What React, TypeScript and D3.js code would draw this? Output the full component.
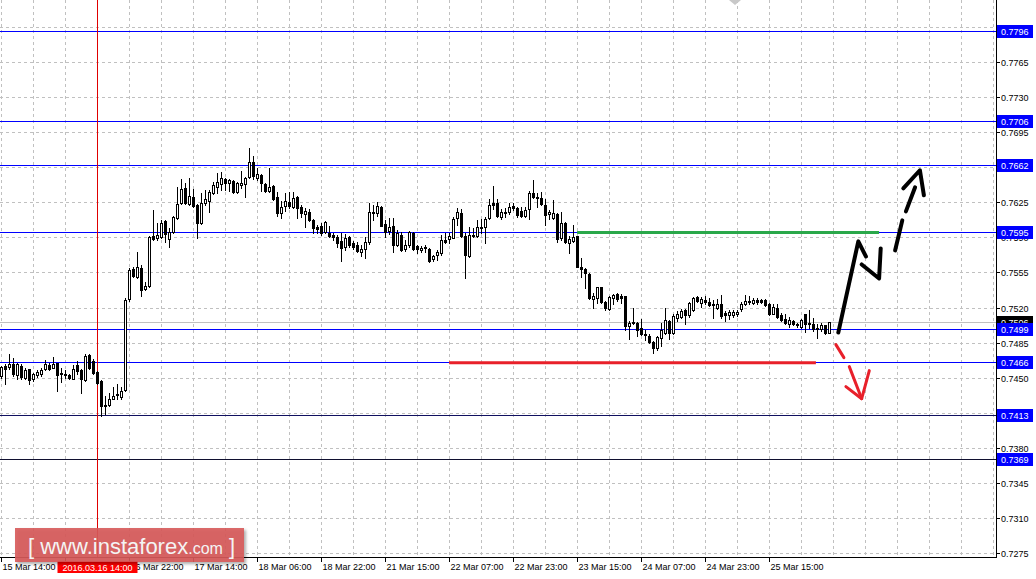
import React from 'react';
import * as d3 from 'd3';

// ---- data ----
const timeLabels = ['15 Mar 14:00', '16 Mar 06:00', '16 Mar 22:00', '17 Mar 14:00', '18 Mar 06:00', '18 Mar 22:00', '21 Mar 15:00', '22 Mar 07:00', '22 Mar 23:00', '23 Mar 15:00', '24 Mar 07:00', '24 Mar 23:00', '25 Mar 15:00'];
const barsPerLabel = 16;
const crosshairBar = 24;
const crosshairLabel = '2016.03.16 14:00';

const priceTicks = [0.7275, 0.7310, 0.7345, 0.7380, 0.7415, 0.7450, 0.7485, 0.7520, 0.7555, 0.7590, 0.7625, 0.7660, 0.7695, 0.7730, 0.7765, 0.7800];
const levels = [0.7796, 0.7706, 0.7662, 0.7595, 0.7499, 0.7466, 0.7413, 0.7369];
const levelColors = ['#0000ff', '#0000ff', '#0000ff', '#0000ff', '#0000ff', '#0000ff', '#101060', '#101030'];
const currentPrice = 0.7506;

// [open, high, low, close]
const ohlc: [number, number, number, number][] = [
  [0.7452, 0.7462, 0.7450, 0.7461], [0.7462, 0.7464, 0.7444, 0.7459], [0.7461, 0.7474, 0.7459, 0.7464], [0.7464, 0.7470, 0.7452, 0.7454],
  [0.7453, 0.7465, 0.7449, 0.7464], [0.7462, 0.7464, 0.7449, 0.7451], [0.7450, 0.7460, 0.7449, 0.7458], [0.7459, 0.7459, 0.7444, 0.7448],
  [0.7449, 0.7455, 0.7447, 0.7454], [0.7453, 0.7458, 0.7451, 0.7456], [0.7454, 0.7460, 0.7452, 0.7458], [0.7459, 0.7468, 0.7458, 0.7464],
  [0.7463, 0.7465, 0.7458, 0.7459], [0.7460, 0.7471, 0.7460, 0.7464], [0.7465, 0.7465, 0.7437, 0.7453], [0.7455, 0.7460, 0.7446, 0.7454],
  [0.7454, 0.7458, 0.7450, 0.7453], [0.7453, 0.7454, 0.7449, 0.7450], [0.7449, 0.7463, 0.7449, 0.7459], [0.7463, 0.7467, 0.7454, 0.7457],
  [0.7458, 0.7459, 0.7435, 0.7449], [0.7448, 0.7474, 0.7447, 0.7472], [0.7473, 0.7474, 0.7459, 0.7460], [0.7467, 0.7469, 0.7454, 0.7455],
  [0.7456, 0.7457, 0.7444, 0.7445], [0.7447, 0.7448, 0.7412, 0.7422], [0.7423, 0.7432, 0.7414, 0.7422], [0.7423, 0.7435, 0.7422, 0.7429],
  [0.7429, 0.7441, 0.7429, 0.7432], [0.7434, 0.7444, 0.7429, 0.7433], [0.7431, 0.7441, 0.7429, 0.7437], [0.7438, 0.7530, 0.7437, 0.7528],
  [0.7529, 0.7559, 0.7527, 0.7557], [0.7558, 0.7560, 0.7550, 0.7551], [0.7550, 0.7575, 0.7549, 0.7560], [0.7559, 0.7562, 0.7532, 0.7537],
  [0.7538, 0.7545, 0.7537, 0.7541], [0.7541, 0.7591, 0.7540, 0.7590], [0.7591, 0.7617, 0.7587, 0.7588], [0.7589, 0.7604, 0.7587, 0.7592],
  [0.7590, 0.7607, 0.7589, 0.7604], [0.7606, 0.7607, 0.7585, 0.7593], [0.7588, 0.7599, 0.7580, 0.7595], [0.7595, 0.7611, 0.7594, 0.7610],
  [0.7609, 0.7640, 0.7608, 0.7623], [0.7624, 0.7648, 0.7623, 0.7638], [0.7639, 0.7644, 0.7623, 0.7624], [0.7623, 0.7649, 0.7622, 0.7631],
  [0.7630, 0.7638, 0.7620, 0.7621], [0.7622, 0.7623, 0.7589, 0.7604], [0.7604, 0.7634, 0.7603, 0.7624], [0.7624, 0.7637, 0.7622, 0.7628],
  [0.7626, 0.7637, 0.7615, 0.7635], [0.7634, 0.7645, 0.7633, 0.7642], [0.7640, 0.7654, 0.7634, 0.7645], [0.7643, 0.7655, 0.7637, 0.7649],
  [0.7648, 0.7649, 0.7637, 0.7644], [0.7644, 0.7648, 0.7636, 0.7647], [0.7646, 0.7647, 0.7634, 0.7635], [0.7635, 0.7645, 0.7634, 0.7644],
  [0.7642, 0.7656, 0.7639, 0.7644], [0.7643, 0.7650, 0.7630, 0.7649], [0.7650, 0.7679, 0.7649, 0.7665], [0.7665, 0.7671, 0.7648, 0.7651],
  [0.7649, 0.7659, 0.7647, 0.7653], [0.7652, 0.7653, 0.7636, 0.7644], [0.7643, 0.7644, 0.7635, 0.7636], [0.7636, 0.7659, 0.7635, 0.7640],
  [0.7641, 0.7642, 0.7627, 0.7628], [0.7630, 0.7635, 0.7611, 0.7614], [0.7614, 0.7626, 0.7609, 0.7620], [0.7621, 0.7634, 0.7616, 0.7626],
  [0.7625, 0.7635, 0.7619, 0.7621], [0.7620, 0.7635, 0.7619, 0.7629], [0.7630, 0.7631, 0.7609, 0.7619], [0.7620, 0.7622, 0.7610, 0.7614],
  [0.7613, 0.7619, 0.7600, 0.7616], [0.7615, 0.7618, 0.7606, 0.7607], [0.7607, 0.7608, 0.7594, 0.7599], [0.7600, 0.7602, 0.7594, 0.7598],
  [0.7601, 0.7604, 0.7592, 0.7594], [0.7595, 0.7606, 0.7594, 0.7605], [0.7594, 0.7601, 0.7590, 0.7591], [0.7592, 0.7594, 0.7587, 0.7590],
  [0.7590, 0.7592, 0.7580, 0.7584], [0.7586, 0.7594, 0.7566, 0.7579], [0.7580, 0.7593, 0.7577, 0.7589], [0.7590, 0.7591, 0.7580, 0.7582],
  [0.7584, 0.7586, 0.7578, 0.7580], [0.7582, 0.7585, 0.7575, 0.7576], [0.7575, 0.7582, 0.7571, 0.7578], [0.7578, 0.7590, 0.7569, 0.7585],
  [0.7585, 0.7624, 0.7583, 0.7615], [0.7614, 0.7622, 0.7607, 0.7615], [0.7614, 0.7625, 0.7611, 0.7621], [0.7620, 0.7621, 0.7601, 0.7601],
  [0.7603, 0.7607, 0.7590, 0.7595], [0.7596, 0.7609, 0.7593, 0.7600], [0.7601, 0.7609, 0.7575, 0.7582], [0.7582, 0.7597, 0.7581, 0.7594],
  [0.7592, 0.7595, 0.7576, 0.7577], [0.7578, 0.7587, 0.7576, 0.7582], [0.7582, 0.7596, 0.7580, 0.7595], [0.7594, 0.7595, 0.7577, 0.7578],
  [0.7581, 0.7582, 0.7574, 0.7578], [0.7577, 0.7581, 0.7575, 0.7579], [0.7580, 0.7582, 0.7575, 0.7579], [0.7578, 0.7579, 0.7565, 0.7566],
  [0.7568, 0.7572, 0.7566, 0.7571], [0.7572, 0.7577, 0.7567, 0.7575], [0.7574, 0.7592, 0.7572, 0.7587], [0.7587, 0.7594, 0.7584, 0.7585],
  [0.7588, 0.7594, 0.7584, 0.7591], [0.7589, 0.7610, 0.7589, 0.7608], [0.7609, 0.7619, 0.7602, 0.7615], [0.7614, 0.7618, 0.7590, 0.7591],
  [0.7591, 0.7594, 0.7549, 0.7572], [0.7571, 0.7600, 0.7570, 0.7592], [0.7592, 0.7599, 0.7590, 0.7591], [0.7591, 0.7607, 0.7590, 0.7600],
  [0.7600, 0.7608, 0.7594, 0.7599], [0.7600, 0.7610, 0.7584, 0.7608], [0.7609, 0.7628, 0.7608, 0.7622], [0.7624, 0.7641, 0.7618, 0.7622],
  [0.7624, 0.7628, 0.7610, 0.7611], [0.7610, 0.7618, 0.7608, 0.7615], [0.7615, 0.7619, 0.7610, 0.7614], [0.7615, 0.7624, 0.7613, 0.7620],
  [0.7621, 0.7624, 0.7617, 0.7619], [0.7619, 0.7620, 0.7610, 0.7612], [0.7616, 0.7620, 0.7610, 0.7611], [0.7611, 0.7620, 0.7610, 0.7617],
  [0.7618, 0.7636, 0.7608, 0.7634], [0.7634, 0.7647, 0.7629, 0.7630], [0.7630, 0.7634, 0.7620, 0.7629], [0.7629, 0.7635, 0.7622, 0.7623],
  [0.7622, 0.7628, 0.7602, 0.7612], [0.7613, 0.7617, 0.7608, 0.7615], [0.7609, 0.7627, 0.7608, 0.7614], [0.7613, 0.7614, 0.7585, 0.7588],
  [0.7589, 0.7615, 0.7587, 0.7604], [0.7604, 0.7605, 0.7584, 0.7585], [0.7584, 0.7591, 0.7574, 0.7588], [0.7586, 0.7602, 0.7585, 0.7590],
  [0.7591, 0.7591, 0.7560, 0.7560], [0.7560, 0.7569, 0.7550, 0.7558], [0.7558, 0.7559, 0.7539, 0.7554], [0.7553, 0.7554, 0.7529, 0.7530],
  [0.7529, 0.7535, 0.7520, 0.7532], [0.7530, 0.7540, 0.7525, 0.7540], [0.7540, 0.7540, 0.7525, 0.7526], [0.7526, 0.7527, 0.7518, 0.7520],
  [0.7519, 0.7532, 0.7518, 0.7531], [0.7530, 0.7534, 0.7524, 0.7533], [0.7534, 0.7535, 0.7527, 0.7529], [0.7532, 0.7534, 0.7525, 0.7530],
  [0.7532, 0.7532, 0.7498, 0.7502], [0.7502, 0.7507, 0.7489, 0.7505], [0.7506, 0.7520, 0.7504, 0.7505], [0.7505, 0.7506, 0.7492, 0.7498],
  [0.7500, 0.7509, 0.7493, 0.7494], [0.7494, 0.7498, 0.7488, 0.7493], [0.7492, 0.7494, 0.7485, 0.7486], [0.7486, 0.7487, 0.7475, 0.7480],
  [0.7480, 0.7492, 0.7478, 0.7491], [0.7490, 0.7505, 0.7482, 0.7498], [0.7495, 0.7520, 0.7494, 0.7508], [0.7507, 0.7508, 0.7489, 0.7495],
  [0.7495, 0.7514, 0.7494, 0.7512], [0.7510, 0.7517, 0.7507, 0.7514], [0.7511, 0.7519, 0.7510, 0.7517], [0.7518, 0.7519, 0.7504, 0.7513],
  [0.7513, 0.7526, 0.7511, 0.7525], [0.7518, 0.7531, 0.7517, 0.7530], [0.7531, 0.7532, 0.7526, 0.7527], [0.7525, 0.7531, 0.7521, 0.7529],
  [0.7528, 0.7532, 0.7524, 0.7526], [0.7526, 0.7530, 0.7522, 0.7523], [0.7524, 0.7528, 0.7510, 0.7523], [0.7520, 0.7529, 0.7519, 0.7524],
  [0.7524, 0.7533, 0.7510, 0.7512], [0.7515, 0.7517, 0.7507, 0.7513], [0.7513, 0.7518, 0.7509, 0.7516], [0.7513, 0.7518, 0.7511, 0.7516],
  [0.7514, 0.7518, 0.7512, 0.7516], [0.7519, 0.7526, 0.7517, 0.7524], [0.7524, 0.7533, 0.7523, 0.7527], [0.7527, 0.7532, 0.7524, 0.7526],
  [0.7525, 0.7530, 0.7524, 0.7528], [0.7528, 0.7530, 0.7524, 0.7526], [0.7528, 0.7529, 0.7525, 0.7526], [0.7528, 0.7529, 0.7522, 0.7523],
  [0.7524, 0.7525, 0.7513, 0.7514], [0.7514, 0.7524, 0.7514, 0.7521], [0.7520, 0.7524, 0.7510, 0.7511], [0.7513, 0.7515, 0.7507, 0.7508],
  [0.7509, 0.7514, 0.7504, 0.7505], [0.7504, 0.7511, 0.7501, 0.7508], [0.7507, 0.7508, 0.7503, 0.7504], [0.7504, 0.7505, 0.7501, 0.7503],
  [0.7501, 0.7509, 0.7500, 0.7508], [0.7514, 0.7514, 0.7496, 0.7504], [0.7505, 0.7518, 0.7500, 0.7504], [0.7504, 0.7510, 0.7497, 0.7499],
  [0.7500, 0.7504, 0.7490, 0.7499], [0.7499, 0.7505, 0.7497, 0.7503], [0.7503, 0.7503, 0.7494, 0.7495], [0.7495, 0.7506, 0.7495, 0.7506],
];

// annotations in [bar index, price]
const greenLine: [number, number][] = [[143.9, 0.7595], [219.4, 0.7595]];
const redLine: [number, number][] = [[111.9, 0.7465], [203.6, 0.7465]];
const blackStrokes: [number, number][][] = [
  [[209.2, 0.7495], [214.2, 0.7586], [216.1, 0.7571]],
  [[215.05, 0.7563], [219.4, 0.7549], [219.8, 0.7579]],
  [[223.4, 0.7577], [225.2, 0.7607]],
  [[226.1, 0.7616], [228.4, 0.7640]],
  [[225.45, 0.7639], [229.6, 0.7657], [230.6, 0.7632]],
];
const redStrokes: [number, number][][] = [
  [[208.6, 0.7483], [210.6, 0.7470]],
  [[211.95, 0.7461], [215.05, 0.7429]],
  [[211.1, 0.7441], [215.05, 0.7429], [216.95, 0.7457]],
];

const W = 1036;
const H = 579;
const plotRight = 996;
const plotBottom = 557;
const FONT = '"Liberation Sans", Arial, sans-serif';

export default function App() {
  const x = d3.scaleLinear().domain([0, 1]).range([1.5, 5.5]);
  const y = d3.scaleLinear().domain([0.7275, 0.7796]).range([553, 31]);
  const py = (p: number) => Math.round(y(p)) + 0.5;
  const line = d3.line<[number, number]>().x(d => x(d[0])).y(d => y(d[1]));

  const gridX: number[] = d3.range(0, 32).map(k => x(k * barsPerLabel / 2));
  const fmt = d3.format('.4f');

  return (
    <div style={{ position: 'fixed', left: 0, top: 0 }}>
      <svg width={W} height={H} style={{ display: 'block', background: '#fff' }} fontFamily={FONT}>
        <defs>
          <clipPath id="plot"><rect x={0} y={0} width={plotRight} height={plotBottom} /></clipPath>
          <filter id="shadow" x="-10%" y="-20%" width="130%" height="160%">
            <feDropShadow dx="2" dy="2" stdDeviation="1.5" floodColor="#000" floodOpacity="0.35" />
          </filter>
        </defs>
        <rect x={0} y={0} width={W} height={H} fill="#fff" />
        {/* grid */}
        <g stroke="#c0c0c0" strokeWidth={1} strokeDasharray="3,3" clipPath="url(#plot)">
          {gridX.filter(v => v < plotRight).map((v, i) => (
            <line key={'gx' + i} x1={Math.floor(v) + 0.5} x2={Math.floor(v) + 0.5} y1={0} y2={plotBottom} />
          ))}
          {priceTicks.map((p, i) => (
            <line key={'gy' + i} x1={0} x2={plotRight} y1={py(p)} y2={py(p)} />
          ))}
        </g>
        <g clipPath="url(#plot)">
          {/* current price line */}
          <line x1={0} x2={plotRight} y1={py(currentPrice)} y2={py(currentPrice)} stroke="#c0c0c0" strokeWidth={1} />
          {/* levels */}
          {levels.map((p, i) => (
            <line key={'lv' + i} x1={0} x2={plotRight} y1={py(p)} y2={py(p)} stroke={levelColors[i]} strokeWidth={1} />
          ))}
          {/* crosshair */}
          <line x1={x(crosshairBar)} x2={x(crosshairBar)} y1={0} y2={plotBottom} stroke="#e00000" strokeWidth={1} />
          {/* candles */}
          {ohlc.map((d, i) => {
            const [o, h, l, c] = d;
            const cx = x(i);
            const top = Math.round(y(Math.max(o, c)));
            const bot = Math.round(y(Math.min(o, c)));
            const up = c >= o;
            return (
              <g key={'c' + i}>
                <line x1={cx} x2={cx} y1={Math.round(y(h))} y2={Math.round(y(l)) + 1} stroke="#000" strokeWidth={1} />
                <rect x={cx - 1} y={top + 0.5} width={2} height={Math.max(bot - top, 0)} fill={up ? '#fff' : '#000'} stroke="#000" strokeWidth={1} />
              </g>
            );
          })}
          {/* target lines */}
          <path d={line(greenLine) || ''} stroke="#2aa84a" strokeWidth={3} fill="none" />
          <path d={line(redLine) || ''} stroke="#e8202a" strokeWidth={3} fill="none" />
          {blackStrokes.map((s, i) => (
            <path key={'bs' + i} d={line(s) || ''} stroke="#000" strokeWidth={4} fill="none" strokeLinecap="round" strokeLinejoin="round" />
          ))}
          {redStrokes.map((s, i) => (
            <path key={'rs' + i} d={line(s) || ''} stroke="#e8202a" strokeWidth={3} fill="none" strokeLinecap="round" strokeLinejoin="round" />
          ))}
          {/* small marker at top */}
          <path d="M729,0 L741,0 L735,5 Z" fill="#c8c8c8" />
        </g>
        {/* axes */}
        <line x1={plotRight + 0.5} x2={plotRight + 0.5} y1={0} y2={plotBottom + 1} stroke="#000" />
        <line x1={0} x2={plotRight + 1} y1={plotBottom + 0.5} y2={plotBottom + 0.5} stroke="#000" />
        {/* price tick labels */}
        <g fontSize={9} fill="#000">
          {priceTicks.map((p, i) => (
            <g key={'pt' + i}>
              <line x1={plotRight} x2={plotRight + 4} y1={py(p)} y2={py(p)} stroke="#000" />
              <text x={1001} y={py(p)} dy="0.35em">{fmt(p)}</text>
            </g>
          ))}
        </g>
        {/* time labels */}
        <g fontSize={9} fill="#000">
          {timeLabels.map((t, i) => {
            const xx = Math.floor(x(i * barsPerLabel)) + 0.5;
            return (
              <g key={'tl' + i}>
                <line x1={xx} x2={xx} y1={plotBottom} y2={plotBottom + 5} stroke="#000" />
                <text x={xx + 1} y={570}>{t}</text>
              </g>
            );
          })}
        </g>
        {/* current price box */}
        <rect x={997} y={Math.round(y(currentPrice)) - 6} width={36} height={13} fill="#000" />
        <text x={1001} y={py(currentPrice)} dy="0.35em" fontSize={9} fill="#fff">{fmt(currentPrice)}</text>
        {/* level boxes */}
        {levels.map((p, i) => (
          <g key={'lb' + i}>
            <rect x={997} y={Math.round(y(p)) - 6} width={36} height={13} fill="#0000ff" />
            <text x={1001} y={py(p)} dy="0.35em" fontSize={9} fill="#fff">{fmt(p)}</text>
          </g>
        ))}
        {/* crosshair time box */}
        <rect x={x(crosshairBar) - 40} y={561} width={80} height={12} fill="#ff0000" />
        <text x={x(crosshairBar)} y={570.5} textAnchor="middle" fontSize={9} fill="#fff">{crosshairLabel}</text>
        {/* logo */}
        <g filter="url(#shadow)">
          <rect x={15} y={528} width={229} height={34} fill="#d65a5a" fillOpacity={0.9} />
        </g>
        <text x={28} y={554} fill="#f4f4f4" fontFamily={FONT} fontSize={22}>
          <tspan>[ </tspan>
          <tspan>www.instaforex</tspan>
          <tspan fontSize={16}>.com</tspan>
          <tspan> ]</tspan>
        </text>
      </svg>
    </div>
  );
}
